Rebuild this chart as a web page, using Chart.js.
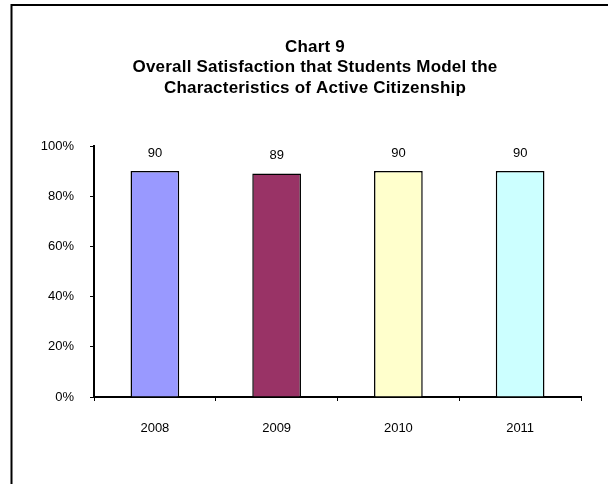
<!DOCTYPE html>
<html>
<head>
<meta charset="utf-8">
<script src="https://cdn.jsdelivr.net/npm/chart.js@4.4.1/dist/chart.umd.min.js"></script>
<style>
    body { margin: 0; background: #fff; }
    #wrap { width: 608px; height: 484px; }
</style>
</head>
<body>
<div id="wrap"><canvas id="chart9" width="608" height="484"></canvas></div>
<script>
// data
const years = ['2008', '2009', '2010', '2011'];
const satisfaction = [90, 89, 90, 90];
const barColors = ['#9999FF', '#993366', '#FFFFCC', '#CCFFFF'];
const titleLines = [
    'Chart 9',
    'Overall Satisfaction that Students Model the',
    'Characteristics of Active Citizenship'
];

const FONT = "'Liberation Sans', Arial, sans-serif";

// outer frame (runs off the right and bottom edge)
const framePlugin = {
    id: 'frame',
    beforeDraw: chart => {
        const ctx = chart.ctx;
        ctx.save();
        ctx.strokeStyle = '#000';
        ctx.lineWidth = 2;
        ctx.strokeRect(11.5, 5, 800, 800);
        ctx.restore();
    }
};

// title is centred on the whole frame, not on the chart box, so draw it here
const titlePlugin = {
    id: 'bigTitle',
    afterDraw: chart => {
        const ctx = chart.ctx;
        ctx.save();
        ctx.font = 'bold 17px ' + FONT;
        ctx.letterSpacing = '0.2px';
        ctx.fillStyle = '#000';
        ctx.textAlign = 'center';
        ctx.textBaseline = 'middle';
        titleLines.forEach((line, i) => {
            ctx.fillText(line, 315, 47 + i * 20.5);
        });
        ctx.restore();
    }
};

// value above each bar
const valueLabels = {
    id: 'valueLabels',
    afterDatasetsDraw: chart => {
        const ctx = chart.ctx;
        const meta = chart.getDatasetMeta(0);
        ctx.save();
        ctx.font = '13px ' + FONT;
        ctx.fillStyle = '#000';
        ctx.textAlign = 'center';
        ctx.textBaseline = 'middle';
        meta.data.forEach((bar, i) => {
            ctx.fillText(String(satisfaction[i]), bar.x, bar.y - 18);
        });
        ctx.restore();
    }
};

new Chart(document.getElementById('chart9').getContext('2d'), {
    type: 'bar',
    data: {
        labels: years,
        datasets: [{
            data: satisfaction,
            backgroundColor: barColors,
            borderColor: '#000',
            borderWidth: 1.5,
            barPercentage: 0.4,
            categoryPercentage: 1
        }]
    },
    options: {
        responsive: false,
        animation: false,
        layout: {
            padding: { left: 0, right: 27, top: 146, bottom: 0 }
        },
        plugins: {
            legend: { display: false },
            tooltip: { enabled: false },
            title: { display: false }
        },
        scales: {
            x: {
                afterFit: s => { s.height = 87; },
                grid: {
                    offset: true,
                    drawOnChartArea: false,
                    drawTicks: true,
                    tickLength: 4,
                    tickColor: '#000',
                    tickWidth: 1
                },
                border: { color: '#000', width: 2 },
                ticks: {
                    color: '#000',
                    padding: 20,
                    font: { family: FONT, size: 13 }
                }
            },
            y: {
                min: 0,
                max: 100,
                afterFit: s => { s.width = 94; },
                grid: {
                    drawOnChartArea: false,
                    drawTicks: true,
                    tickLength: 4,
                    tickColor: '#000',
                    tickWidth: 1
                },
                border: { color: '#000', width: 2 },
                ticks: {
                    stepSize: 20,
                    color: '#000',
                    padding: 16,
                    font: { family: FONT, size: 13 },
                    callback: v => v + '%'
                }
            }
        }
    },
    plugins: [framePlugin, titlePlugin, valueLabels]
});
</script>
</body>
</html>
